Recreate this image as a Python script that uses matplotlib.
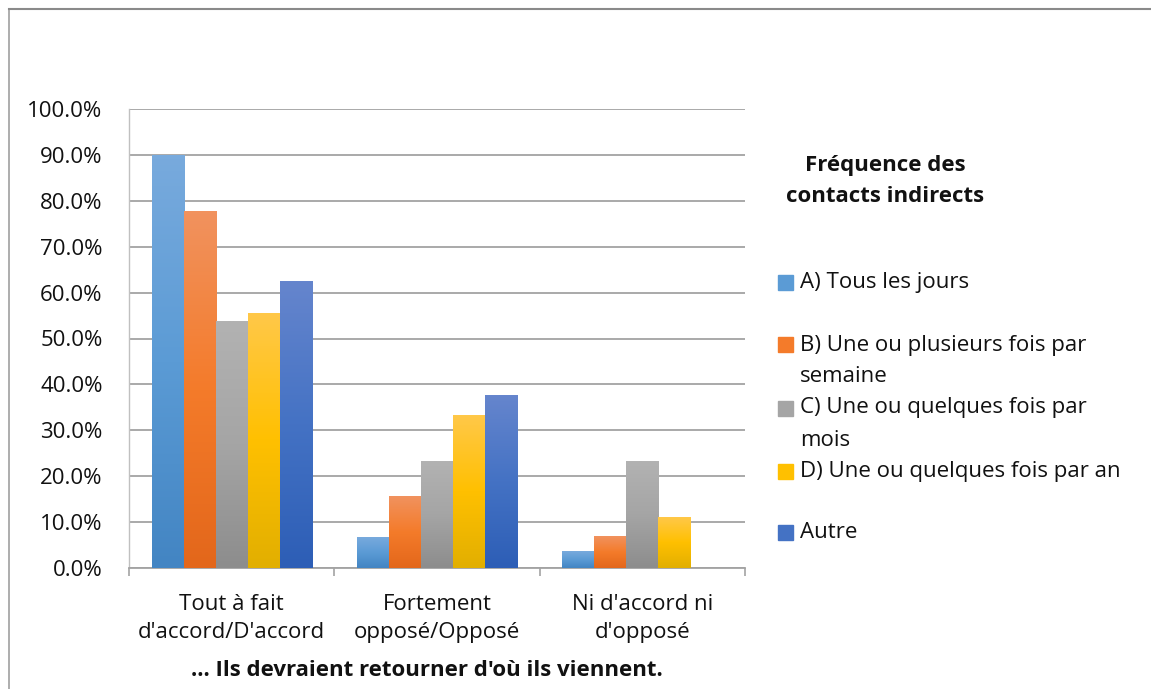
import numpy as np
import matplotlib
matplotlib.use("Agg")
from matplotlib import pyplot as plt
from matplotlib.colors import LinearSegmentedColormap
from matplotlib.patches import Rectangle
from matplotlib.lines import Line2D

# data
categories = ["Tout à fait\nd'accord/D'accord", "Fortement\nopposé/Opposé", "Ni d'accord ni\nd'opposé"]
series_labels = ["A) Tous les jours", "B) Une ou plusieurs fois par\nsemaine",
                 "C) Une ou quelques fois par\nmois", "D) Une ou quelques fois par an", "Autre"]
tous_les_jours = [89.9, 6.7, 3.5]
par_semaine = [77.8, 15.6, 6.9]
par_mois = [53.8, 23.3, 23.3]
par_an = [55.6, 33.3, 11.1]
autre = [62.5, 37.7, 0.0]
values = [tous_les_jours, par_semaine, par_mois, par_an, autre]
y_ticks = [0, 10, 20, 30, 40, 50, 60, 70, 80, 90, 100]

# (top, middle, bottom) gradient colours, Excel style
gradients = [
    ("#78AADD", "#5B9BD5", "#4385C3"),
    ("#F1925E", "#F47B2A", "#E3671B"),
    ("#B2B2B2", "#A5A5A5", "#8D8D8D"),
    ("#FFC848", "#FFC000", "#E2AF00"),
    ("#6585CD", "#4472C4", "#2D5EB6"),
]

plt.rcParams['font.family'] = ['Open Sans', 'DejaVu Sans']
FS = 16

W, H = 1151, 689
fig = plt.figure(figsize=(W / 100, H / 100), dpi=100)
left, right = 129 / W, 745 / W
bottom, top = 1 - 567.7 / H, 1 - 109.3 / H
ax = fig.add_axes([left, bottom, right - left, top - bottom])

x = np.arange(len(categories))
width = 0.156
for i, (vals, grad) in enumerate(zip(values, gradients)):
    offs = (i - 2) * width
    bars = ax.bar(x + offs, vals, width, color=grad[1], zorder=2)
    cmap = LinearSegmentedColormap.from_list("g%d" % i, [grad[2], grad[1], grad[0]])
    grad_img = np.linspace(0, 1, 100).reshape(-1, 1)
    for b in bars:
        h = b.get_height()
        if h <= 0:
            continue
        x0 = b.get_x()
        ax.imshow(grad_img, extent=[x0, x0 + b.get_width(), 0, h], origin='lower',
                  cmap=cmap, aspect='auto', zorder=3, interpolation='bilinear')

ax.set_xlim(-0.5, 2.5)
ax.set_ylim(0, 100)
ax.set_yticks(y_ticks)
ax.set_yticklabels(["%.1f%%" % t for t in y_ticks])
ax.yaxis.grid(True, color='#A3A3A3', linewidth=1.3, zorder=0)
ax.set_axisbelow(True)

ax.set_xticks(x)
ax.set_xticklabels(categories, linespacing=1.45)
ax.set_xticks([-0.5, 0.5, 1.5, 2.5], minor=True)
ax.tick_params(axis='x', which='major', length=0, pad=19, labelsize=FS, colors='#111111')
ax.tick_params(axis='x', which='minor', length=6, width=1.2, color='#A3A3A3')
ax.tick_params(axis='y', length=0, pad=19, labelsize=FS, colors='#111111')

for s in ['top', 'right']:
    ax.spines[s].set_visible(False)
ax.spines['bottom'].set_color('#A3A3A3')
ax.spines['bottom'].set_linewidth(1.3)
ax.spines['left'].set_color('#C0C0C0')
ax.spines['left'].set_linewidth(1.0)

fig.text(427 / W, 1 - 671 / H, "... Ils devraient retourner d'où ils viennent.",
         ha='center', va='center', fontsize=FS, fontweight='bold', color='#111111')

# legend, drawn by hand to follow the Excel layout
fig.text(885 / W, 1 - 165 / H, "Fréquence des", ha='center', va='center',
         fontsize=FS, fontweight='bold', color='#111111')
fig.text(885 / W, 1 - 196 / H, "contacts indirects", ha='center', va='center',
         fontsize=FS, fontweight='bold', color='#111111')
entry_y = [282, 345, 408, 471, 532]
for lab, grad, yy in zip(series_labels, gradients, entry_y):
    fig.add_artist(Rectangle((778 / W, 1 - (yy + 7.5) / H), 15 / W, 15 / H,
                             transform=fig.transFigure, color=grad[1]))
    for k, line in enumerate(lab.split('\n')):
        fig.text(800 / W, 1 - (yy + 32 * k) / H, line, ha='left', va='center',
                 fontsize=FS, color='#111111')

# chart area border
fig.add_artist(Line2D([9 / W, 9 / W], [0, 1 - 9 / H], transform=fig.transFigure,
                      color='#A0A0A0', linewidth=1.2))
fig.add_artist(Line2D([9 / W, 1], [1 - 9 / H, 1 - 9 / H], transform=fig.transFigure,
                      color='#8A8A8A', linewidth=1.5))

fig.savefig("out.png", dpi=100)
